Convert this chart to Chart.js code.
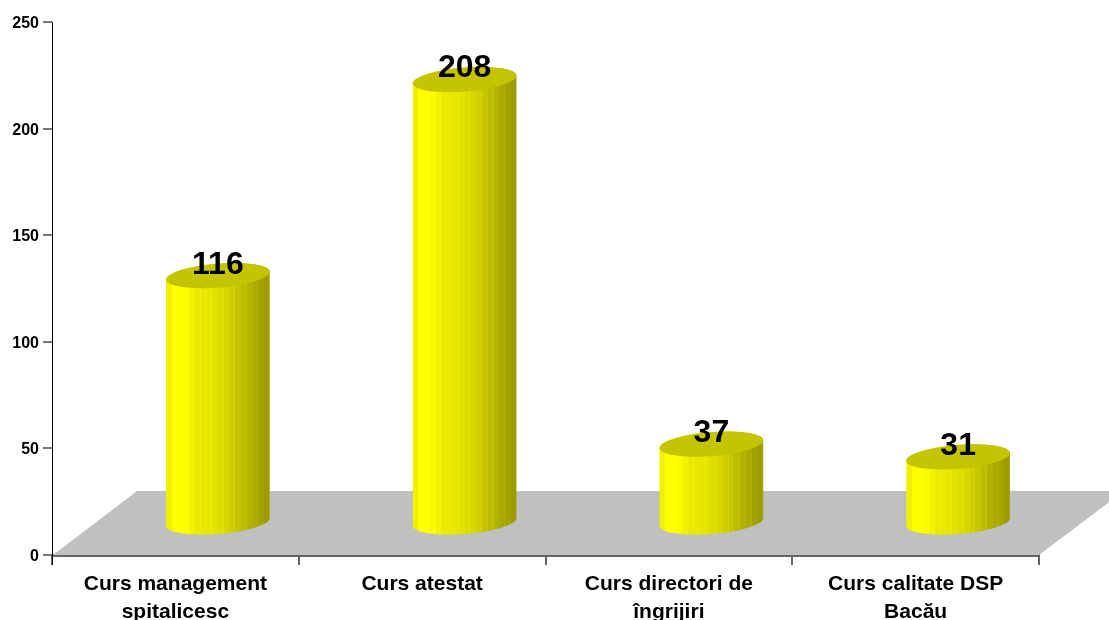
<!DOCTYPE html>
<html><head><meta charset="utf-8">
<style>html,body{margin:0;padding:0;background:#fff}#w{width:1109px;height:620px;position:relative}</style>
<script src="https://cdn.jsdelivr.net/npm/chart.js@4"></script></head>
<body><div id="w"><canvas id="c" width="1109" height="620"></canvas></div>
<script>
const categories = [["Curs management","spitalicesc"],"Curs atestat",["Curs directori de","îngrijiri"],["Curs calitate DSP","Bacău"]];
const values = [116,208,37,31];
const yTicks = [0,50,100,150,200,250];

const FONT = '"Liberation Sans", Arial, sans-serif';
const DEPTH_X = 85, DEPTH_Y = 64;
const RX = 52, RY = 12, ROT = -4.5*Math.PI/180;
const shades = [0xf0,0xff,0xff,0xfa,0xf2,0xea,0xe8,0xe6,0xe2,0xdc,0xd6,0xce,0xc6,0xbc,0xb2,0xaa,0xa4,0x9c];

function drawCylinder(ctx){
  const x = this.x + DEPTH_X/2, top = this.y - DEPTH_Y/2, base = this.base - DEPTH_Y/2;
  const t0 = Math.atan2(-RY*Math.sin(ROT), RX*Math.cos(ROT));
  const g = ctx.createLinearGradient(x-RX,0,x+RX,0);
  const col = v => `rgb(${v},${v},0)`;
  const n = shades.length, px = 1/(2*RX);
  shades.forEach((v,i)=>{
    const a0 = i/n, a1 = (i+1)/n;
    g.addColorStop(a0,col(v));
    g.addColorStop(a1-px,col(v));
    const edge = i%2 ? Math.min(255,v+8) : v;
    g.addColorStop(a1-px,col(edge));
    g.addColorStop(a1,col(edge));
  });
  ctx.save();
  ctx.beginPath();
  ctx.ellipse(x,base,RX,RY,ROT,t0,t0+Math.PI);
  ctx.ellipse(x,top,RX,RY,ROT,t0+Math.PI,t0+2*Math.PI);
  ctx.closePath();
  ctx.fillStyle = g; ctx.fill();
  ctx.beginPath();
  ctx.ellipse(x,top,RX,RY,ROT,0,2*Math.PI);
  ctx.fillStyle = '#c4c400'; ctx.fill();
  ctx.restore();
}

const cylinderPlugin = {
  id:'cylinder',
  beforeDatasetsDraw(chart){
    const {ctx,chartArea:a} = chart;
    ctx.save();
    ctx.beginPath();
    ctx.moveTo(a.left+1,a.bottom);
    ctx.lineTo(a.right,a.bottom);
    ctx.lineTo(a.right+DEPTH_X,a.bottom-DEPTH_Y);
    ctx.lineTo(a.left+DEPTH_X,a.bottom-DEPTH_Y);
    ctx.closePath();
    ctx.fillStyle='#c0c0c0'; ctx.fill();
    ctx.restore();
    chart.getDatasetMeta(0).data.forEach(el=>{el.draw = drawCylinder;});
  },
  afterDatasetsDraw(chart){
    const {ctx} = chart;
    ctx.save();
    ctx.font = 'bold 32px '+FONT;
    ctx.fillStyle='#000'; ctx.textAlign='center'; ctx.textBaseline='middle';
    chart.getDatasetMeta(0).data.forEach((el,i)=>{
      ctx.fillText(String(values[i]), el.x+DEPTH_X/2, el.y-DEPTH_Y/2-11);
    });
    ctx.restore();
  }
};

new Chart(document.getElementById('c'),{
  type:'bar',
  data:{labels:categories,datasets:[{data:values,backgroundColor:'#ffff00',barPercentage:1,categoryPercentage:0.42}]},
  options:{
    responsive:false,animation:false,
    layout:{padding:{top:22,right:70,left:0,bottom:0}},
    plugins:{legend:{display:false},tooltip:{enabled:false}},
    scales:{
      x:{
        afterFit(s){s.height=65;},
        border:{color:'#666',width:3},
        grid:{drawOnChartArea:false,drawTicks:true,tickLength:10,color:'#666',lineWidth:2,offset:true},
        ticks:{color:'#000',font:{family:FONT,weight:'bold',size:21,lineHeight:1.33},padding:5,maxRotation:0,autoSkip:false}
      },
      y:{
        min:0,max:250,
        afterFit(s){
          s.width=52;
          const orig=s.constructor.prototype.drawLabels;
          s.drawLabels=function(area){const c=this.ctx;c.save();c.translate(0,1.5);orig.call(this,area);c.restore();};
        },
        afterBuildTicks(s){s.ticks=yTicks.map(v=>({value:v}));},
        border:{color:'#000',width:1},
        grid:{drawOnChartArea:false,drawTicks:true,tickLength:9,color:'#777',lineWidth:2},
        ticks:{color:'#000',font:{family:FONT,weight:'bold',size:16},padding:4}
      }
    }
  },
  plugins:[cylinderPlugin,{id:'yExt',afterDraw(chart){
    const {ctx,chartArea:a}=chart;ctx.save();ctx.strokeStyle='#000';ctx.lineWidth=1;
    ctx.beginPath();ctx.moveTo(a.left+.5,a.top);ctx.lineTo(a.left+.5,a.bottom+10);ctx.stroke();ctx.restore();
  }}]
});
</script></body></html>
